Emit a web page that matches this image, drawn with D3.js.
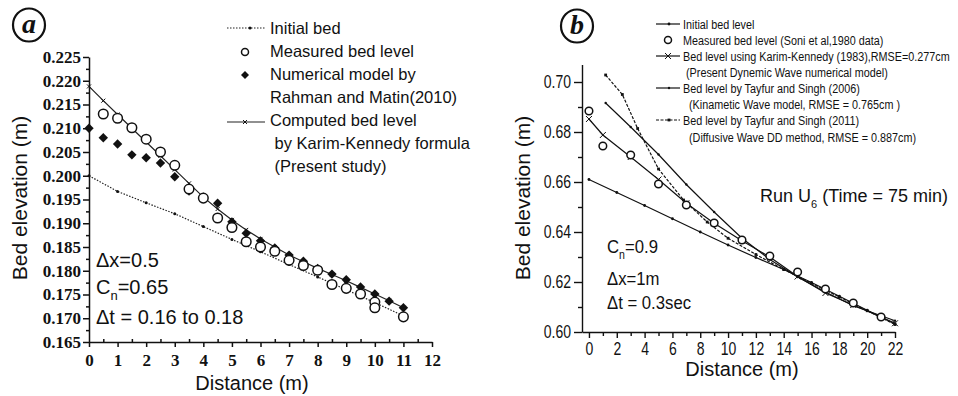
<!DOCTYPE html>
<html>
<head>
<meta charset="utf-8">
<script src="https://cdn.jsdelivr.net/npm/d3@7"></script>
<style>
  body { margin: 0; background: #fff; }
  svg text { fill: #111; }
</style>
</head>
<body>
<div id="chart"></div>
<script>
// ---- panel (a) data ----
const distInitA = [0, 1, 2, 3, 4, 5, 6, 7, 8, 9, 10, 11];
const initialBedA = [0.2000, 0.1967, 0.1943, 0.1920, 0.1893, 0.1866, 0.1840, 0.1813, 0.1787, 0.1760, 0.1733, 0.1705];
const distMeasA = [0.5, 1, 1.5, 2, 2.5, 3, 3.5, 4, 4.5, 5, 5.5, 6, 6.5, 7, 7.5, 8, 8.5, 9, 9.5, 10, 10, 11];
const measuredA = [0.2130, 0.2121, 0.2101, 0.2077, 0.2050, 0.2022, 0.1972, 0.1953, 0.1911, 0.1891, 0.1861, 0.1850, 0.1841, 0.1822, 0.1811, 0.1801, 0.1771, 0.1763, 0.1751, 0.1734, 0.1722, 0.1703];
const distHalfA = [0, 0.5, 1, 1.5, 2, 2.5, 3, 3.5, 4, 4.5, 5, 5.5, 6, 6.5, 7, 7.5, 8, 8.5, 9, 9.5, 10, 10.5, 11];
const numericalA = [0.2100, 0.2080, 0.2067, 0.2044, 0.2038, 0.2027, 0.1998, 0.1968, 0.1955, 0.1942, 0.1903, 0.1879, 0.1863, 0.1848, 0.1833, 0.1820, 0.1805, 0.1793, 0.1781, 0.1766, 0.1751, 0.1736, 0.1722];
const computedA = [0.2188, 0.2158, 0.2129, 0.2100, 0.2071, 0.2042, 0.2013, 0.1984, 0.1955, 0.1930, 0.1907, 0.1886, 0.1867, 0.1850, 0.1833, 0.1819, 0.1805, 0.1792, 0.1779, 0.1765, 0.1751, 0.1737, 0.1722];
const yTicksA = [0.165, 0.170, 0.175, 0.180, 0.185, 0.190, 0.195, 0.200, 0.205, 0.210, 0.215, 0.220, 0.225];
const xTicksA = [0, 1, 2, 3, 4, 5, 6, 7, 8, 9, 10, 11, 12];

// ---- panel (b) data ----
const distInitB = [0, 2, 4, 6, 8, 10, 12, 14, 16, 18, 20, 22];
const initialBedB = [0.6610, 0.6558, 0.6506, 0.6453, 0.6400, 0.6348, 0.6298, 0.6250, 0.6198, 0.6143, 0.6087, 0.6032];
const distMeasB = [0, 1, 3, 5, 7, 9, 11, 13, 15, 17, 19, 21];
const measuredB = [0.6884, 0.6744, 0.6708, 0.6592, 0.6508, 0.6436, 0.6368, 0.6304, 0.6240, 0.6172, 0.6116, 0.6060];
const distKarimB = [0, 1, 3, 5, 7, 9, 11, 13, 15, 17, 19, 21, 22];
const karimB = [0.6852, 0.6788, 0.6700, 0.6610, 0.6515, 0.6435, 0.6365, 0.6300, 0.6222, 0.6156, 0.6108, 0.6060, 0.6035];
const distKinB = [1.2, 3, 5, 7, 9, 11, 13, 15, 17, 19, 21, 22];
const kinematicB = [0.6916, 0.6820, 0.6710, 0.6590, 0.6480, 0.6375, 0.6290, 0.6220, 0.6160, 0.6105, 0.6065, 0.6045];
const distDifB = [1.2, 2.4, 3.5, 5, 6.8, 8.5, 10, 12, 14, 16, 18, 20, 22];
const diffusiveB = [0.7028, 0.6950, 0.6814, 0.6652, 0.6528, 0.6440, 0.6375, 0.6310, 0.6250, 0.6195, 0.6140, 0.6085, 0.6030];
const yTicksB = [0.60, 0.62, 0.64, 0.66, 0.68, 0.70];
const xTicksB = [0, 2, 4, 6, 8, 10, 12, 14, 16, 18, 20, 22];

const legendA = ["Initial bed", "Measured bed level", "Numerical model by", "Rahman and Matin(2010)",
  "Computed bed level", " by Karim-Kennedy formula", " (Present study)"];
const legendB = ["Initial bed level", "Measured bed level (Soni et al,1980 data)",
  "Bed level using Karim-Kennedy (1983),RMSE=0.277cm", " (Present Dynemic Wave numerical model)",
  "Bed level by Tayfur and Singh (2006)", "  (Kinametic Wave model, RMSE = 0.765cm )",
  "Bed level by Tayfur and Singh (2011)", "  (Diffusive Wave DD method, RMSE = 0.887cm)"];

const zip = (xs, ys) => xs.map((x, i) => [x, ys[i]]);

const W = 958, H = 396;
const svg = d3.select("#chart").append("svg")
  .attr("width", W).attr("height", H)
  .style("background", "#fff");

const sans = "'Liberation Sans', Arial, sans-serif";
const serif = "'Liberation Serif', 'Times New Roman', serif";
const SQ = 0.8; // horizontal squeeze for the narrow lettering of panel (b)

function circledLabel(cx, cy, letter) {
  svg.append("ellipse").attr("cx", cx).attr("cy", cy).attr("rx", 16).attr("ry", 16.5)
    .attr("fill", "none").attr("stroke", "#111").attr("stroke-width", 2.2);
  svg.append("text").attr("x", cx).attr("y", cy + 8).attr("text-anchor", "middle")
    .style("font-family", serif).style("font-style", "italic").style("font-weight", "bold")
    .style("font-size", "28px").text(letter);
}

function marker(g, kind, x, y, r) {
  if (kind === "circle") {
    g.append("circle").attr("cx", x).attr("cy", y).attr("r", r)
      .attr("fill", "#fff").attr("stroke", "#111").attr("stroke-width", 1.5);
  } else if (kind === "diamond") {
    g.append("path").attr("d", `M${x},${y - r}L${x + r},${y}L${x},${y + r}L${x - r},${y}Z`)
      .attr("fill", "#111");
  } else if (kind === "cross") {
    g.append("path").attr("d", `M${x - r},${y - r}L${x + r},${y + r}M${x - r},${y + r}L${x + r},${y - r}`)
      .attr("stroke", "#111").attr("stroke-width", 1);
  } else if (kind === "dot") {
    g.append("circle").attr("cx", x).attr("cy", y).attr("r", r).attr("fill", "#111");
  } else if (kind === "square") {
    g.append("rect").attr("x", x - r).attr("y", y - r).attr("width", 2 * r).attr("height", 2 * r).attr("fill", "#111");
  }
}

// squeezed text placed at (x, y)
function narrowText(g, x, y, size, sq) {
  return g.append("text").attr("transform", `translate(${x},${y}) scale(${sq || SQ},1)`)
    .style("font-family", sans).style("font-size", size + "px");
}

// ================= panel (a) =================
const xA = d3.scaleLinear().domain([0, 12]).range([89, 432]);
const yA = d3.scaleLinear().domain([0.165, 0.225]).range([342, 57]);
const gA = svg.append("g");

// minor ticks
gA.append("g").attr("transform", `translate(${xA(0)},0)`)
  .call(d3.axisLeft(yA).tickValues(d3.range(0.1675, 0.225, 0.005)).tickSize(3).tickFormat(""))
  .call(g => g.select(".domain").remove());
gA.append("g").attr("transform", `translate(0,${yA(0.165)})`)
  .call(d3.axisBottom(xA).tickValues(d3.range(0.5, 12, 1)).tickSize(-3).tickFormat(""))
  .call(g => g.select(".domain").remove());

const axLA = gA.append("g").attr("transform", `translate(${xA(0)},0)`)
  .call(d3.axisLeft(yA).tickValues(yTicksA).tickFormat(d3.format(".3f")).tickSize(6).tickSizeOuter(0).tickPadding(2));
const axBA = gA.append("g").attr("transform", `translate(0,${yA(0.165)})`)
  .call(d3.axisBottom(xA).tickValues(xTicksA).tickFormat(d3.format("d")).tickSize(5).tickSizeOuter(0).tickPadding(7));
[axLA, axBA].forEach(a => {
  a.selectAll("text").style("font-family", serif).style("font-weight", "bold").style("font-size", "17px").attr("fill", "#111");
});
gA.selectAll("path, line").attr("stroke", "#111").attr("stroke-width", 1.5);

const lineA = d3.line().x(d => xA(d[0])).y(d => yA(d[1]));

// initial bed (dotted)
gA.append("path").datum(zip(distInitA, initialBedA)).attr("d", lineA)
  .attr("fill", "none").attr("stroke", "#222").attr("stroke-width", 1.2).attr("stroke-dasharray", "1.5,1.5");
zip(distInitA, initialBedA).forEach(d => marker(gA, "dot", xA(d[0]), yA(d[1]), 1.5));

// computed bed level (solid with x)
gA.append("path").datum(zip(distHalfA, computedA)).attr("d", lineA)
  .attr("fill", "none").attr("stroke", "#222").attr("stroke-width", 1.2);
zip(distHalfA, computedA).forEach(d => marker(gA, "cross", xA(d[0]), yA(d[1]), 2));

// numerical model (diamonds)
zip(distHalfA, numericalA).forEach(d => marker(gA, "diamond", xA(d[0]), yA(d[1]), 4.7));
// measured (open circles)
zip(distMeasA, measuredA).forEach(d => marker(gA, "circle", xA(d[0]), yA(d[1]), 4.8));

// axis titles
svg.append("text").attr("transform", `translate(27,198) rotate(-90)`).attr("text-anchor", "middle")
  .style("font-family", sans).style("font-size", "21px").text("Bed elevation (m)");
svg.append("text").attr("x", 252).attr("y", 390).attr("text-anchor", "middle")
  .style("font-family", sans).style("font-size", "20px").text("Distance (m)");

// annotations
const annA = svg.append("g").style("font-family", sans).style("font-size", "20px");
annA.append("text").attr("x", 96).attr("y", 267).text("\u0394x=0.5");
const cnA = annA.append("text").attr("x", 96).attr("y", 294);
cnA.append("tspan").text("C");
cnA.append("tspan").attr("dy", 6).style("font-size", "13px").text("n");
cnA.append("tspan").attr("dy", -6).text("=0.65");
annA.append("text").attr("x", 96).attr("y", 324).text("\u0394t = 0.16 to 0.18");

// legend
const legA = svg.append("g").style("font-family", sans).style("font-size", "16.5px");
legendA.forEach((t, i) => {
  legA.append("text").attr("x", 270).attr("y", 34 + i * 23).attr("xml:space", "preserve").text(t);
});
legA.append("line").attr("x1", 227).attr("x2", 265).attr("y1", 28).attr("y2", 28)
  .attr("stroke", "#222").attr("stroke-width", 1.2).attr("stroke-dasharray", "1.5,1.5");
marker(legA, "dot", 250, 28, 1.5);
marker(legA, "circle", 245, 52, 3.5);
marker(legA, "diamond", 245, 75, 4);
legA.append("line").attr("x1", 227).attr("x2", 265).attr("y1", 122).attr("y2", 122)
  .attr("stroke", "#222").attr("stroke-width", 1.2);
marker(legA, "cross", 245, 122, 2);

circledLabel(29, 25, "a");

// ================= panel (b) =================
const xB = d3.scaleLinear().domain([-0.5, 22]).range([582, 895]);
const yB = d3.scaleLinear().domain([0.60, 0.707]).range([332, 64.5]);
const gB = svg.append("g");

gB.append("g").attr("transform", `translate(${xB(-0.5)},0)`)
  .call(d3.axisLeft(yB).tickValues(d3.range(0.61, 0.70, 0.02)).tickSize(4).tickFormat(""))
  .call(g => g.select(".domain").remove());
gB.append("g").attr("transform", `translate(0,${yB(0.6)})`)
  .call(d3.axisBottom(xB).tickValues(d3.range(1, 22, 2)).tickSize(4).tickFormat(""))
  .call(g => g.select(".domain").remove());

const axLB = gB.append("g").attr("transform", `translate(${xB(-0.5)},0)`)
  .call(d3.axisLeft(yB).tickValues(yTicksB).tickFormat(d3.format(".2f")).tickSize(8).tickSizeOuter(0).tickPadding(3));
const axBB = gB.append("g").attr("transform", `translate(0,${yB(0.6)})`)
  .call(d3.axisBottom(xB).tickValues(xTicksB).tickFormat(d3.format("d")).tickSize(6).tickSizeOuter(0).tickPadding(5));
// squeeze tick labels around their anchor
axLB.selectAll(".tick text").each(function () {
  const t = d3.select(this), x = +t.attr("x");
  t.attr("x", null).attr("transform", `translate(${x},0) scale(${SQ},1)`);
});
axBB.selectAll(".tick text").attr("transform", `scale(${SQ},1)`);
[axLB, axBB].forEach(a => {
  a.selectAll("text").style("font-family", sans).style("font-size", "17.5px").attr("fill", "#111");
});
gB.selectAll("path, line").attr("stroke", "#111").attr("stroke-width", 1.4);

const lineB = d3.line().x(d => xB(d[0])).y(d => yB(d[1]));
const drawB = (xs, ys, dash) => gB.append("path").datum(zip(xs, ys)).attr("d", lineB)
  .attr("fill", "none").attr("stroke", "#111").attr("stroke-width", 1.2)
  .attr("stroke-dasharray", dash || null);

drawB(distInitB, initialBedB);
zip(distInitB, initialBedB).forEach(d => marker(gB, "dot", xB(d[0]), yB(d[1]), 1.4));
drawB(distKinB, kinematicB);
zip(distKinB, kinematicB).forEach(d => marker(gB, "dot", xB(d[0]), yB(d[1]), 1.2));
drawB(distDifB, diffusiveB, "3,1.5");
zip(distDifB, diffusiveB).forEach(d => marker(gB, "square", xB(d[0]), yB(d[1]), 1.4));
drawB(distKarimB, karimB);
zip(distKarimB, karimB).forEach(d => marker(gB, "cross", xB(d[0]), yB(d[1]), 3));
zip(distMeasB, measuredB).forEach(d => marker(gB, "circle", xB(d[0]), yB(d[1]), 3.8));

svg.append("text").attr("transform", `translate(530,198) rotate(-90)`).attr("text-anchor", "middle")
  .style("font-family", sans).style("font-size", "21px").text("Bed elevation (m)");
svg.append("text").attr("x", 742).attr("y", 376).attr("text-anchor", "middle")
  .style("font-family", sans).style("font-size", "20px").text("Distance (m)");

const annB = svg.append("g");
const cnB = narrowText(annB, 607, 253, 19, 0.88);
cnB.append("tspan").text("C");
cnB.append("tspan").attr("dy", 6).style("font-size", "12px").text("n");
cnB.append("tspan").attr("dy", -6).text("=0.9");
narrowText(annB, 607, 285, 19, 0.88).text("\u0394x=1m");
narrowText(annB, 607, 309, 19, 0.88).text("\u0394t = 0.3sec");

const run = svg.append("text").attr("x", 760).attr("y", 202)
  .style("font-family", sans).style("font-size", "18px");
run.append("tspan").text("Run U");
run.append("tspan").attr("dy", 6).style("font-size", "11px").text("6");
run.append("tspan").attr("dy", -6).text(" (Time = 75 min)");

// legend (b)
const legB = svg.append("g");
const rowY = [24, 40, 56, 72, 88, 104, 120, 137];
legendB.forEach((t, i) => {
  narrowText(legB, 683, rowY[i] + 5, 13.5).attr("xml:space", "preserve").text(t);
});
const legLine = (y, dash) => legB.append("line").attr("x1", 656).attr("x2", 680).attr("y1", y).attr("y2", y)
  .attr("stroke", "#111").attr("stroke-width", 1.2).attr("stroke-dasharray", dash || null);
legLine(rowY[0]); marker(legB, "dot", 669, rowY[0], 1.4);
marker(legB, "circle", 668, rowY[1], 3.5);
legLine(rowY[2]); marker(legB, "cross", 668, rowY[2], 3);
legLine(rowY[4]); marker(legB, "dot", 669, rowY[4], 1.2);
legLine(rowY[6], "3,1.5"); marker(legB, "square", 669, rowY[6], 1.4);

circledLabel(577, 26, "b");
</script>
</body>
</html>
